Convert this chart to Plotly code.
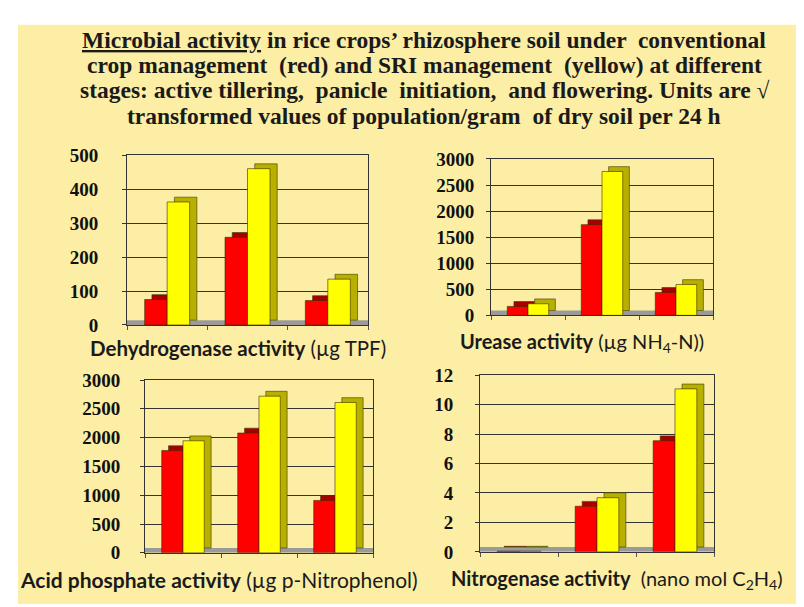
import plotly.graph_objects as go

# ---------------- data ----------------
stages = ["Active tillering", "Panicle initiation", "Flowering"]

dehydrogenase_conv = [75, 258, 72]
dehydrogenase_sri = [362, 460, 135]

urease_conv = [172, 1740, 440]
urease_sri = [222, 2760, 592]

acid_phos_conv = [1775, 2080, 910]
acid_phos_sri = [1945, 2720, 2610]

nitrogenase_conv = [0.05, 3.1, 7.55]
nitrogenase_sri = [0.05, 3.68, 11.07]

y_ticks_1 = [0, 100, 200, 300, 400, 500]
y_ticks_2 = [0, 500, 1000, 1500, 2000, 2500, 3000]
y_ticks_3 = [0, 500, 1000, 1500, 2000, 2500, 3000]
y_ticks_4 = [0, 2, 4, 6, 8, 10, 12]

titles = [
    "<b>Dehydrogenase activity</b> (µg TPF)",
    "<b>Urease activity</b> (µg NH<sub>4</sub>-N))",
    "<b>Acid phosphate activity</b> (µg p-Nitrophenol)",
    "<b>Nitrogenase activity</b>  (nano mol C<sub>2</sub>H<sub>4</sub>)",
]

title_lines = [
    "<u>Microbial activity</u> in rice crops’ rhizosphere soil under  conventional",
    "crop management  (red) and SRI management  (yellow) at different",
    "stages: active tillering,  panicle  initiation,  and flowering. Units are √",
    "transformed values of population/gram  of dry soil per 24 h",
]

# ---------------- style ----------------
W, H = 804, 607
BG = "#FCEEA4"
RED, RED_SIDE = "#FF0000", "#A80000"
YEL, YEL_SIDE = "#FFFF00", "#B8B000"

panels = [
    dict(px=(119, 360), py=(142, 318), rmax=500, ticks=y_ticks_1, conv=dehydrogenase_conv, sri=dehydrogenase_sri, stand=20),
    dict(px=(483, 705), py=(146, 308), rmax=3000, ticks=y_ticks_2, conv=urease_conv, sri=urease_sri, stand=8),
    dict(px=(137, 365), py=(375, 554), rmax=3000, ticks=y_ticks_3, conv=acid_phos_conv, sri=acid_phos_sri, stand=16),
    dict(px=(472, 706), py=(370, 553), rmax=12, ticks=y_ticks_4, conv=nitrogenase_conv, sri=nitrogenase_sri, stand=18),
]

BW = 0.28      # bar width (category units)
DX = 0.09      # depth offset in x (category units)
DPX = 5        # depth offset in y (pixels)

fig = go.Figure()

# background with white border strip at left/top (added first so it sits lowest)
fig.add_shape(type="rect", xref="paper", yref="paper", x0=10 / W, x1=1, y0=0, y1=1 - 7 / H,
              fillcolor=BG, line=dict(width=0), layer="below")

for i, p in enumerate(panels, start=1):
    xa = "x" if i == 1 else f"x{i}"
    ya = "y" if i == 1 else f"y{i}"
    h_px = p["py"][1] - p["py"][0]
    dy = p["rmax"] / h_px * DPX
    for vals, col, side, off in [(p["conv"], RED, RED_SIDE, -BW), (p["sri"], YEL, YEL_SIDE, 0.0)]:
        fig.add_trace(go.Bar(
            x=stages, y=vals, base=dy, offset=off + DX, width=BW,
            marker=dict(color=side, line=dict(color="#3a3a00", width=0.6)),
            xaxis=xa, yaxis=ya, showlegend=False, hoverinfo="skip"))
        fig.add_trace(go.Bar(
            x=stages, y=vals, offset=off, width=BW,
            marker=dict(color=col, line=dict(color="#3a2a00", width=0.6)),
            xaxis=xa, yaxis=ya, showlegend=False))

    xd = [p["px"][0] / W, p["px"][1] / W]
    yd = [1 - p["py"][1] / H, 1 - p["py"][0] / H]
    key = "" if i == 1 else str(i)
    fig.layout["xaxis" + key] = dict(
        domain=xd, anchor=ya, type="category", range=[-0.5, 2.5],
        showticklabels=False, ticks="outside", tickson="boundaries", ticklen=4,
        tickcolor="#555", showline=True, linecolor="#333", linewidth=1,
        mirror=True, showgrid=False, zeroline=False, fixedrange=True)
    fig.layout["yaxis" + key] = dict(
        domain=yd, anchor=xa, range=[0, p["rmax"]], tickvals=p["ticks"],
        ticks="outside", ticklen=4, tickcolor="#333",
        ticklabelstandoff=p["stand"],
        tickfont=dict(family="Liberation Serif", size=19, color="#111", weight="bold"),
        showline=True, linecolor="#333", linewidth=1, mirror=True,
        showgrid=True, gridcolor="#333", gridwidth=1, zeroline=False, fixedrange=True)
    fig.add_shape(type="rect", xref=f"{xa} domain", yref=ya, x0=0, x1=1, y0=0, y1=dy,
                  fillcolor="#9a9a9a", line=dict(width=0), layer="below")

label_pos = [(80, 342), (450, 336), (10, 582), (441, 582)]
label_sizes = [20.5, 20, 21, 20]
for t, (lx, ly), s in zip(titles, label_pos, label_sizes):
    fig.add_annotation(text=t, xref="paper", yref="paper", x=lx / W, y=1 - ly / H,
                       xanchor="left", yanchor="middle", showarrow=False,
                       font=dict(family="Lato", size=s, color="#1a1a1a"))

title_y = [23, 49, 75, 102]
for line, ty in zip(title_lines, title_y):
    fig.add_annotation(text=line, xref="paper", yref="paper", x=416 / W, y=1 - ty / H,
                       xanchor="center", yanchor="middle", showarrow=False,
                       font=dict(family="Liberation Serif", size=23.5, color="#1a1a1a", weight="bold"))

fig.update_layout(
    width=W, height=H, margin=dict(l=0, r=0, t=0, b=0),
    paper_bgcolor="white", plot_bgcolor="rgba(0,0,0,0)",
    barmode="overlay", showlegend=False,
)

fig.write_html("out.html")
